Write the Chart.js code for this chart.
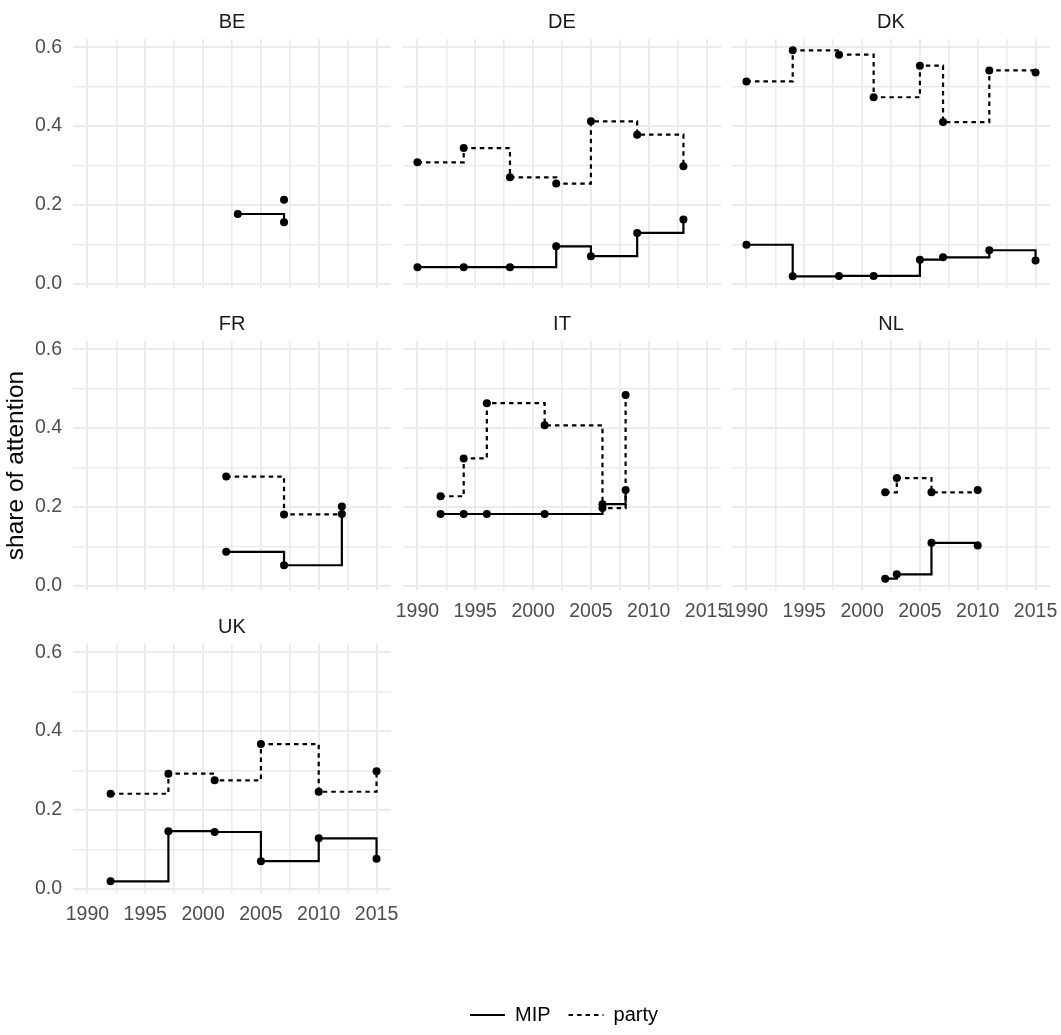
<!DOCTYPE html>
<html>
<head>
<meta charset="utf-8">
<title>share of attention</title>
<script src="https://cdn.jsdelivr.net/npm/chart.js@4.4.1/dist/chart.umd.min.js"></script>
<style>
  html, body { margin: 0; padding: 0; background: #fff; overflow: hidden; }
  #fig { position: relative; width: 1061px; height: 1035px; overflow: hidden; background: #fff; }
  #fig canvas { position: absolute; }
</style>
</head>
<body>
<div id="fig"></div>
<script>
// datos: anos de eleccion y share of attention (MIP / party)
var paises = ['BE', 'DE', 'DK', 'FR', 'IT', 'NL', 'UK'];

var anosBE = [2003, 2007];
var mipBE = [0.177, 0.156];
var partyBE = [null, 0.213];

var anosDE = [1990, 1994, 1998, 2002, 2005, 2009, 2013];
var mipDE = [0.042, 0.042, 0.042, 0.095, 0.070, 0.129, 0.163];
var partyDE = [0.308, 0.344, 0.270, 0.254, 0.412, 0.378, 0.298];

var anosDK = [1990, 1994, 1998, 2001, 2005, 2007, 2011, 2015];
var mipDK = [0.099, 0.019, 0.020, 0.020, 0.061, 0.067, 0.085, 0.059];
var partyDK = [0.513, 0.592, 0.581, 0.473, 0.553, 0.410, 0.541, 0.536];

var anosFR = [2002, 2007, 2012];
var mipFR = [0.086, 0.052, 0.182];
var partyFR = [0.277, 0.181, 0.201];

var anosIT = [1992, 1994, 1996, 2001, 2006, 2008];
var mipIT = [0.182, 0.182, 0.182, 0.182, 0.207, 0.243];
var partyIT = [0.227, 0.323, 0.463, 0.407, 0.197, 0.484];

var anosNL = [2002, 2003, 2006, 2010];
var mipNL = [0.018, 0.029, 0.109, 0.102];
var partyNL = [0.237, 0.273, 0.237, 0.243];

var anosUK = [1992, 1997, 2001, 2005, 2010, 2015];
var mipUK = [0.019, 0.146, 0.144, 0.070, 0.128, 0.076];
var partyUK = [0.241, 0.292, 0.275, 0.367, 0.246, 0.298];

var xTicks = [1990, 1995, 2000, 2005, 2010, 2015];
var yTicks = [0, 0.2, 0.4, 0.6];
var series = ['MIP', 'party'];
var tituloY = 'share of attention';

var datos = {
    BE: [anosBE, mipBE, partyBE],
    DE: [anosDE, mipDE, partyDE],
    DK: [anosDK, mipDK, partyDK],
    FR: [anosFR, mipFR, partyFR],
    IT: [anosIT, mipIT, partyIT],
    NL: [anosNL, mipNL, partyNL],
    UK: [anosUK, mipUK, partyUK]
};

// posicion de los paneles (area del grafico)
var columnas = [73, 403, 732];
var filas = [39, 341, 644];
var anchoPanel = 318;
var altoPanel = 249;
var ejeY = 80;
var ejeX = 40;
var alturaTitulo = 33;

Chart.defaults.font.family = '"Liberation Sans", Arial, sans-serif';
Chart.defaults.animation = false;

var fig = document.getElementById('fig');

function mitades(arr) {
    var r = [];
    for (var i = 0; i < arr.length - 1; i++) {
        r.push((arr[i] + arr[i + 1]) / 2);
    }
    return r;
}

function gridTicks(mayores) {
    return mayores.concat(mitades(mayores)).sort(function (a, b) { return a - b; }).map(function (v) {
        return { value: v };
    });
}

function esMayor(ctx, mayores) {
    return ctx.tick && mayores.indexOf(ctx.tick.value) >= 0;
}

function puntos(anos, valores) {
    var r = [];
    for (var i = 0; i < anos.length; i++) {
        r.push({ x: anos[i], y: valores[i] });
    }
    return r;
}

function serie(nombre, anos, valores, punteado) {
    return {
        label: nombre,
        data: puntos(anos, valores),
        stepped: 'before',
        borderColor: '#000',
        borderWidth: 2.2,
        borderDash: punteado ? [4.5, 4] : [],
        pointRadius: 4,
        pointHoverRadius: 4,
        pointBackgroundColor: '#000',
        pointBorderWidth: 0,
        spanGaps: false,
        fill: false
    };
}

function crearCanvas(x, y, w, h) {
    var c = document.createElement('canvas');
    c.width = w;
    c.height = h;
    c.style.left = x + 'px';
    c.style.top = y + 'px';
    c.style.width = w + 'px';
    c.style.height = h + 'px';
    fig.appendChild(c);
    return c.getContext('2d');
}

function crearPanel(pais, i) {
    var col = i % 3;
    var fila = Math.floor(i / 3);
    var verY = col === 0;
    var verX = i + 3 >= paises.length;
    var d = datos[pais];

    var ancho = ejeY + anchoPanel + 30;
    var alto = alturaTitulo + altoPanel + ejeX + 10;
    var ctx = crearCanvas(columnas[col] - ejeY, filas[fila] - alturaTitulo, ancho, alto);

    new Chart(ctx, {
        type: 'line',
        data: {
            datasets: [
                serie(series[0], d[0], d[1], false),
                serie(series[1], d[0], d[2], true)
            ]
        },
        options: {
            responsive: false,
            devicePixelRatio: 1,
            layout: { padding: { left: 0, top: 0, right: 30, bottom: 10 } },
            plugins: {
                legend: { display: false },
                tooltip: { enabled: false },
                title: {
                    display: true,
                    text: pais,
                    fullSize: false,
                    color: '#1A1A1A',
                    font: { size: 20, weight: 'normal', lineHeight: 1.2 },
                    padding: { top: 4, bottom: 5 }
                }
            },
            scales: {
                x: {
                    type: 'linear',
                    min: 1988.75,
                    max: 2016.25,
                    afterFit: function (scale) { scale.height = ejeX; },
                    afterBuildTicks: function (scale) { scale.ticks = gridTicks(xTicks); },
                    border: { display: false },
                    grid: {
                        drawTicks: false,
                        color: '#EBEBEB',
                        lineWidth: function (c) { return esMayor(c, xTicks) ? 2 : 1.6; }
                    },
                    ticks: {
                        display: verX,
                        autoSkip: false,
                        maxRotation: 0,
                        padding: 9.5,
                        color: '#4D4D4D',
                        font: { size: 19.5 },
                        callback: function (v) { return xTicks.indexOf(v) >= 0 ? String(v) : ''; }
                    }
                },
                y: {
                    type: 'linear',
                    min: -0.0107,
                    max: 0.6207,
                    afterFit: function (scale) { scale.width = ejeY; },
                    afterBuildTicks: function (scale) { scale.ticks = gridTicks(yTicks); },
                    border: { display: false },
                    grid: {
                        drawTicks: false,
                        color: '#EBEBEB',
                        lineWidth: function (c) { return esMayor(c, yTicks) ? 2 : 1.6; }
                    },
                    ticks: {
                        display: verY,
                        autoSkip: false,
                        padding: 11,
                        color: '#4D4D4D',
                        font: { size: 19.5 },
                        callback: function (v) { return yTicks.indexOf(v) >= 0 ? v.toFixed(1) : ''; }
                    },
                    title: {
                        display: pais === 'FR',
                        text: tituloY,
                        color: '#000',
                        font: { size: 24.5, lineHeight: 1.2 },
                        padding: { top: 9, bottom: 0 }
                    }
                }
            }
        }
    });
}

paises.forEach(crearPanel);

// leyenda comun abajo (canvas alto: la leyenda solo puede usar la mitad)
function crearLeyenda() {
    var ctx = crearCanvas(264, 987, 600, 110);
    new Chart(ctx, {
        type: 'line',
        data: {
            datasets: [
                serie(series[0], [], [], false),
                serie(series[1], [], [], true)
            ]
        },
        options: {
            responsive: false,
            devicePixelRatio: 1,
            layout: { padding: 0 },
            scales: { x: { display: false }, y: { display: false } },
            plugins: {
                tooltip: { enabled: false },
                legend: {
                    display: true,
                    position: 'top',
                    maxHeight: 60,
                    labels: {
                        usePointStyle: true,
                        pointStyleWidth: 35,
                        padding: 18,
                        color: '#000',
                        font: { size: 20 },
                        generateLabels: function (chart) {
                            return chart.data.datasets.map(function (ds, k) {
                                return {
                                    text: ds.label,
                                    datasetIndex: k,
                                    pointStyle: 'line',
                                    strokeStyle: ds.borderColor,
                                    fillStyle: ds.borderColor,
                                    lineWidth: 2,
                                    lineDash: ds.borderDash,
                                    fontColor: '#000',
                                    hidden: false
                                };
                            });
                        }
                    }
                }
            }
        }
    });
}
crearLeyenda();
</script>
</body>
</html>
